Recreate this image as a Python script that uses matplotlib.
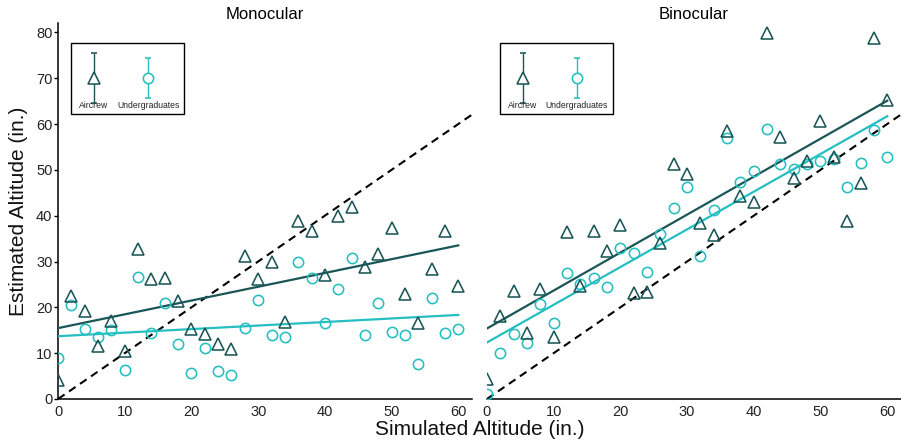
import matplotlib.pyplot as plt
import numpy as np
from matplotlib.patches import Rectangle

plt.rcParams.update(
    {
        "font.family": ["Liberation Sans", "DejaVu Sans"],
        "axes.linewidth": 1.1,
        "xtick.labelsize": 10.5,
        "ytick.labelsize": 10.5,
    }
)

AIRCREW_COLOR = "#1b5657"
UNDERGRAD_COLOR = "#25bfc1"

SIMULATED = [0, 2, 4, 6, 8, 10, 12, 14, 16, 18, 20, 22, 24, 26, 28, 30,
             32, 34, 36, 38, 40, 42, 44, 46, 48, 50, 52, 54, 56, 58, 60]

MONO_AIRCREW = [4.1, 22.5, 19.2, 11.6, 17.0, 10.5, 32.7, 26.1, 26.4, 21.4,
                15.3, 14.2, 11.9, 10.8, 31.1, 26.2, 30.0, 16.7, 38.9, 36.6,
                27.1, 39.9, 41.9, 28.9, 31.6, 37.3, 22.9, 16.6, 28.4, 36.7,
                24.7]
MONO_UNDERGRAD = [9.0, 20.4, 15.2, 13.6, 15.1, 6.4, 26.7, 14.3, 21.0, 12.1,
                  5.7, 11.1, 6.0, 5.3, 15.4, 21.5, 13.9, 13.5, 29.8, 26.5,
                  16.6, 24.1, 30.8, 14.0, 20.9, 14.6, 14.0, 7.6, 22.0, 14.4,
                  15.2]

BIN_AIRCREW = [4.4, 18.2, 23.6, 14.5, 23.9, 13.6, 36.4, 24.7, 36.6, 32.3,
               38.0, 23.1, 23.3, 34.0, 51.2, 49.0, 38.3, 35.8, 58.5, 44.2,
               42.9, 79.9, 57.2, 48.3, 51.9, 60.7, 52.7, 38.9, 47.1, 78.7,
               65.2]
BIN_UNDERGRAD = [1.0, 10.1, 14.2, 12.3, 20.8, 16.5, 27.6, 25.1, 26.5, 24.5,
                 33.0, 31.9, 27.7, 36.1, 41.6, 46.3, 31.3, 41.3, 56.9, 47.4,
                 49.8, 58.9, 51.3, 50.2, 51.3, 52.0, 52.3, 46.3, 51.6, 58.7,
                 52.8]

PANELS = [
    ("Monocular", MONO_AIRCREW, MONO_UNDERGRAD),
    ("Binocular", BIN_AIRCREW, BIN_UNDERGRAD),
]

# legend key: (x, centre, half-width of bar) in data units
KEY_AIRCREW = (5.4, 70.0, 5.4)
KEY_UNDERGRAD = (13.5, 70.0, 4.3)

TRI_SIZE = 8.8
CIRCLE_SIZE = 7.4
EDGE_WIDTH = 1.15


def draw_key(ax):
    ax.add_patch(
        Rectangle((1.95, 62.1), 16.95, 15.5, fill=False, edgecolor="black",
                  linewidth=1.0, zorder=5)
    )
    for (x, y, err), marker, color, ms, label in [
        (KEY_AIRCREW, "^", AIRCREW_COLOR, TRI_SIZE, "Aircrew"),
        (KEY_UNDERGRAD, "o", UNDERGRAD_COLOR, CIRCLE_SIZE, "Undergraduates"),
    ]:
        ax.errorbar(x, y, yerr=err, fmt=marker, color=color, ecolor=color,
                    elinewidth=1.0, capsize=2.5, capthick=1.0, ms=ms,
                    mfc="white", mec=color, mew=EDGE_WIDTH, zorder=6)
        ax.text(x, 63.0, label, ha="center", va="bottom", fontsize=6.2,
                color="#222222", zorder=6)


fig, axes = plt.subplots(1, 2, figsize=(9.01, 4.46), dpi=100)
fig.subplots_adjust(left=0.0644, right=0.9995, bottom=0.1054, top=0.948,
                    wspace=0.037)

x = np.array(SIMULATED, dtype=float)
for ax, (title, aircrew, undergrad) in zip(axes, PANELS):
    ax.plot([0, 62], [0, 62], color="black", linewidth=1.5,
            dashes=(3.8, 2.6), zorder=2)

    for values, marker, color, ms in [
        (undergrad, "o", UNDERGRAD_COLOR, CIRCLE_SIZE),
        (aircrew, "^", AIRCREW_COLOR, TRI_SIZE),
    ]:
        values = np.array(values)
        slope, intercept = np.polyfit(x, values, 1)
        ax.plot([0, 60], [intercept, intercept + slope * 60], color=color,
                linewidth=1.6, zorder=3)
        ax.plot(x, values, linestyle="none", marker=marker, ms=ms,
                mfc="none", mec=color, mew=EDGE_WIDTH, zorder=4)

    draw_key(ax)

    ax.set_xlim(0, 62)
    ax.set_ylim(0, 82)
    ax.set_xticks([0, 10, 20, 30, 40, 50, 60])
    ax.set_title(title, fontsize=12, pad=3)
    ax.spines["top"].set_visible(False)
    ax.spines["right"].set_visible(False)
    ax.tick_params(axis="x", length=0, pad=4, labelcolor="#222222")
    ax.tick_params(axis="y", length=3, width=1, pad=1, labelcolor="#222222")

axes[0].set_yticks([0, 10, 20, 30, 40, 50, 60, 70, 80])
axes[1].spines["left"].set_visible(False)
axes[1].set_yticks([])

fig.text(0.532, 0.036, "Simulated Altitude (in.)", ha="center", va="center",
         fontsize=15, color="#111111")
fig.text(0.02, 0.527, "Estimated Altitude (in.)", ha="center", va="center",
         rotation=90, fontsize=15, color="#111111")

fig.savefig("out.png", dpi=100)
